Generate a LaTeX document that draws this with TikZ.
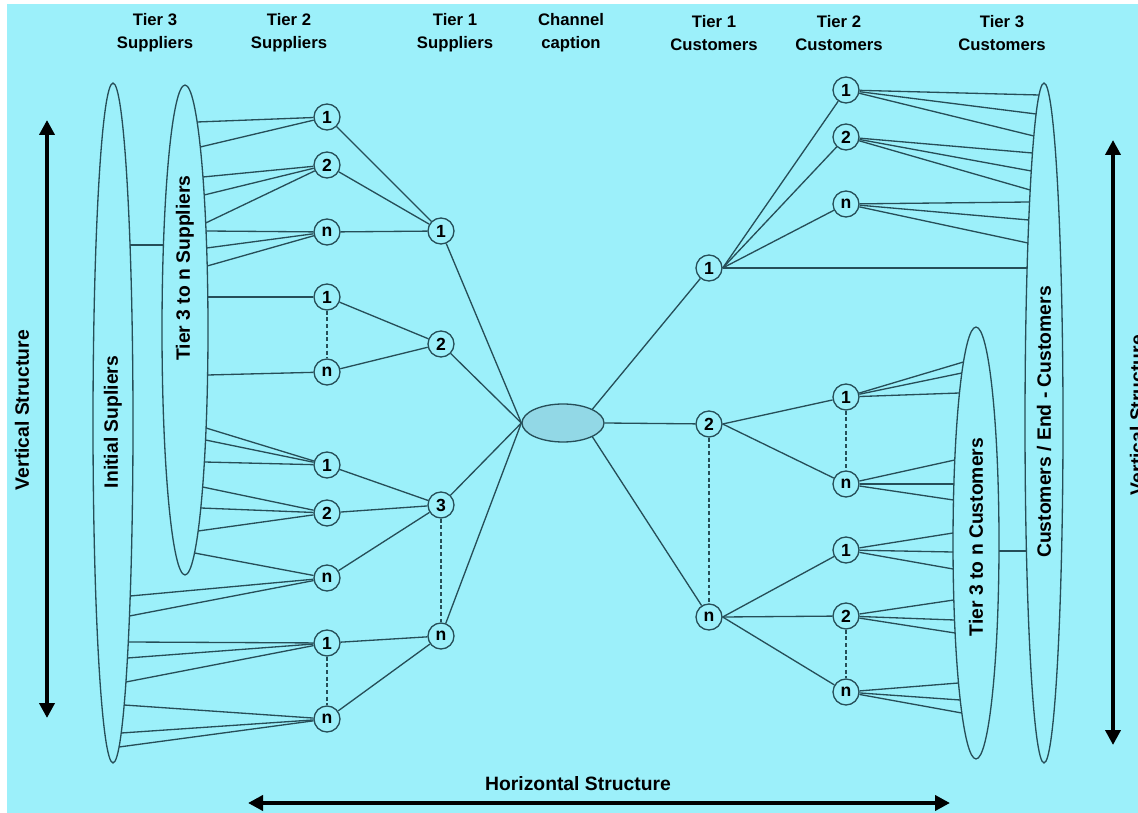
\documentclass[tikz,border=0pt]{standalone}
\usepackage{fontspec}
\setmainfont{Liberation Sans}
\usepackage{tikz}
\usetikzlibrary{shapes.geometric, arrows.meta, positioning, calc}

\definecolor{bgcyan}{RGB}{156,240,250}
\definecolor{chanfill}{RGB}{146,216,230}
\definecolor{edgecol}{RGB}{38,78,88}

\begin{document}
\begin{tikzpicture}[x=0.02cm, y=-0.02cm,
  declare function={rimx(\py,\cy,\rx,\ry)=\rx*sqrt(1-((\py-\cy)/\ry)^2);},
  link/.style={draw=edgecol, line width=0.75pt},
  chain/.style={link, dash pattern=on 2.2pt off 1.6pt},
  tier/.style={circle, draw=edgecol, line width=0.75pt, minimum size=0.52cm, inner sep=0pt, font=\bfseries\fontsize{10}{12}\selectfont},
  ring/.style={ellipse, draw=edgecol, line width=0.75pt, inner sep=0pt},
  caption/.style={align=center, font=\bfseries\fontsize{9.5}{13}\selectfont},
  vtext/.style={rotate=90, font=\bfseries\fontsize{11}{13}\selectfont},
  span/.style={line width=2.8pt, {Triangle[length=0.3cm,width=0.3cm]}-{Triangle[length=0.3cm,width=0.3cm]}}]

% Background
\useasboundingbox (0,0) rectangle (1138,813);
\fill[white] (0,0) rectangle (1138,813);
\fill[bgcyan] (7,4) rectangle (1138,813);

% Column captions
\node[caption] (cap-s3) at (155,33) {Tier 3\\Suppliers};
\node[caption] (cap-s2) at (289,33) {Tier 2\\Suppliers};
\node[caption] (cap-s1) at (455,33) {Tier 1\\Suppliers};
\node[caption] (cap-ch) at (571,33) {Channel\\caption};
\node[caption] (cap-c1) at (714,33) {Tier 1\\Customers};
\node[caption] (cap-c2) at (839,33) {Tier 2\\Customers};
\node[caption] (cap-c3) at (1002,33) {Tier 3\\Customers};

% Outer groups
\node[ring, minimum width=0.8cm, minimum height=13.6cm] (isup) at (113,423) {};
\node[vtext] (isup-txt) at (113,422) {Initial Supliers};
\node[ring, minimum width=0.92cm, minimum height=9.8cm] (tsup) at (185,330) {};
\node[vtext] (tsup-txt) at (185,268) {Tier 3 to n Suppliers};
\node[ring, minimum width=0.76cm, minimum height=13.6cm] (ecus) at (1044,423) {};
\node[vtext] (ecus-txt) at (1044,422) {Customers / End - Customers};
\node[ring, minimum width=0.92cm, minimum height=8.64cm] (tcus) at (976,543) {};
\node[vtext] (tcus-txt) at (976,537) {Tier 3 to n Customers};

% Channel
\node[ring, fill=chanfill, minimum width=1.64cm, minimum height=0.76cm] (chan) at (563,423) {};

% Tier 2 suppliers
\node[tier] (L2a) at (327,117) {1};
\node[tier] (L2b) at (327,165) {2};
\node[tier] (L2c) at (327,232) {n};
\node[tier] (L2d) at (327,297) {1};
\node[tier] (L2e) at (327,372) {n};
\node[tier] (L2f) at (327,465) {1};
\node[tier] (L2g) at (327,513) {2};
\node[tier] (L2h) at (327,578) {n};
\node[tier] (L2i) at (327,643) {1};
\node[tier] (L2j) at (327,719) {n};

% Tier 1 suppliers
\node[tier] (L1a) at (441,231) {1};
\node[tier] (L1b) at (441,344) {2};
\node[tier] (L1c) at (441,505) {3};
\node[tier] (L1d) at (441,636) {n};

% Tier 1 customers
\node[tier] (R1a) at (709,268) {1};
\node[tier] (R1b) at (709,424) {2};
\node[tier] (R1c) at (709,617) {n};

% Tier 2 customers
\node[tier] (R2a) at (846,90) {1};
\node[tier] (R2b) at (846,137) {2};
\node[tier] (R2c) at (846,204) {n};
\node[tier] (R2d) at (846,397) {1};
\node[tier] (R2e) at (846,484) {n};
\node[tier] (R2f) at (846,550) {1};
\node[tier] (R2g) at (846,616) {2};
\node[tier] (R2h) at (846,692) {n};

% Supplier side links
\foreach \n in {L1a,L1b,L1c,L1d}
  \draw[link] (\n) -- (chan.west);
\draw[link] (L2a) -- (L1a);
\draw[link] (L2b) -- (L1a);
\draw[link] (L2c) -- (L1a);
\draw[link] (L2d) -- (L1b);
\draw[link] (L2e) -- (L1b);
\draw[link] (L2f) -- (L1c);
\draw[link] (L2g) -- (L1c);
\draw[link] (L2h) -- (L1c);
\draw[link] (L2i) -- (L1d);
\draw[link] (L2j) -- (L1d);
\draw[chain] (L2d) -- (L2e);
\draw[chain] (L1c) -- (L1d);
\draw[chain] (L2i) -- (L2j);

% Fans to the supplier groups
\foreach \n/\y in {L2a/122, L2a/147, L2b/177, L2b/195, L2b/223, L2c/231, L2c/248, L2c/266,
    L2d/297, L2e/375, L2f/428, L2f/440, L2f/462, L2g/487, L2g/508, L2g/531, L2h/553}
  \draw[link] (\n) -- ($(tsup.center)+({rimx(\y,330,23,245)},{\y-330})$);
\foreach \n/\y in {L2h/596, L2h/616, L2i/642, L2i/658, L2i/682, L2j/705, L2j/733, L2j/747}
  \draw[link] (\n) -- ($(isup.center)+({rimx(\y,423,20,340)},{\y-423})$);
\draw[link] ($(isup.center)+({rimx(245,423,20,340)},-178)$) -- ($(tsup.center)+({rimx(245,330,-23,245)},-85)$);

% Customer side links
\draw[link] (chan.north east) -- (R1a);
\draw[link] (chan.east) -- (R1b);
\draw[link] (chan.south east) -- (R1c);
\foreach \n in {R2a,R2b,R2c}
  \draw[link] (R1a.east) -- (\n);
\foreach \n in {R2d,R2e}
  \draw[link] (R1b.east) -- (\n);
\foreach \n in {R2f,R2g,R2h}
  \draw[link] (R1c.east) -- (\n);
\draw[chain] (R1b) -- (R1c);
\draw[chain] (R2d) -- (R2e);
\draw[chain] (R2g) -- (R2h);

% Fans to the customer groups
\foreach \n/\y in {R2a/95, R2a/114, R2a/136, R2b/153, R2b/171, R2b/190, R2c/202, R2c/220, R2c/243}
  \draw[link] (\n) -- ($(ecus.center)+({rimx(\y,423,-19,340)},{\y-423})$);
\draw[link] (R1a.east) -- ($(ecus.center)+({rimx(268,423,-19,340)},-155)$);
\foreach \n/\y in {R2d/362, R2d/373, R2d/393, R2e/460, R2e/484, R2e/500, R2f/533, R2f/552, R2f/569,
    R2g/600, R2g/620, R2g/633, R2h/683, R2h/700, R2h/713}
  \draw[link] (\n) -- ($(tcus.center)+({rimx(\y,543,-23,216)},{\y-543})$);
\draw[link] ($(tcus.center)+({rimx(551,543,23,216)},8)$) -- ($(ecus.center)+({rimx(551,423,-19,340)},128)$);

% Structure arrows
\coordinate (vl-top) at (47,120);
\coordinate (vl-bot) at (47,718);
\draw[span] (vl-top) -- (vl-bot);
\node[vtext] (vl-txt) at (22,410) {Vertical Structure};
\coordinate (vr-top) at (1113,140);
\coordinate (vr-bot) at (1113,745);
\draw[span] (vr-top) -- (vr-bot);
\node[vtext] (vr-txt) at (1137,415) {Vertical Structure};
\coordinate (h-left) at (248,803);
\coordinate (h-right) at (950,803);
\draw[span] (h-left) -- (h-right);
\node[font=\bfseries\fontsize{11}{13}\selectfont] (h-txt) at (578,784) {Horizontal Structure};
\end{tikzpicture}
\end{document}
